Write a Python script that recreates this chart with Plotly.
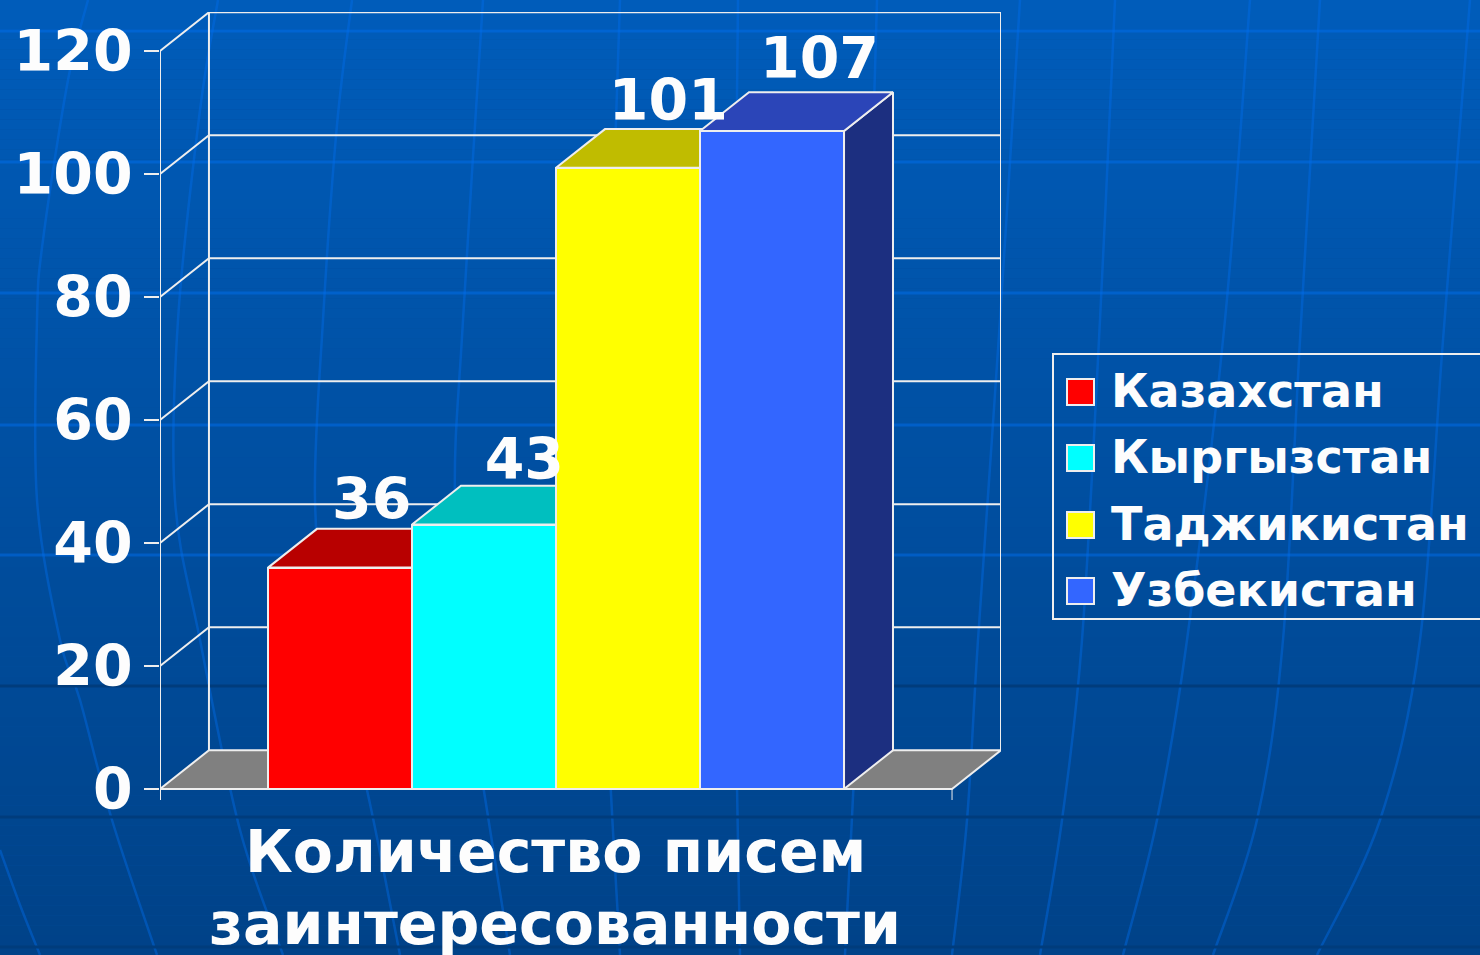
import plotly.graph_objects as go

# ---- data ----
categories = ["Казахстан", "Кыргызстан", "Таджикистан", "Узбекистан"]
values = [36, 43, 101, 107]
y_ticks = [0, 20, 40, 60, 80, 100, 120]
title_lines = ["Количество писем", "заинтересованности"]

front_colors = ["#ff0000", "#00ffff", "#ffff00", "#3366ff"]
top_colors = ["#b80000", "#00bfbf", "#c0bc00", "#2b45b8"]
side_colors = ["#800000", "#008080", "#808000", "#1c2f80"]

# nudges of the value labels, in axis units
label_dx = [0.22, 0.28, 0.28, 0.33]
label_dy = [10.3, 9.8, 10.1, 10.9]

W, H = 1480, 955
FONT = "DejaVu Sans"
WHITE = "#fdfdfd"
LINE = "#eeeeee"

# ---- chart geometry in axis units ----
bar_w = 1.0
first_left = 0.75
floor_w = 5.5
dx, dy = 0.34, 6.3
x_max = floor_w + dx
y_min, y_max = -1.8, 126.34
lefts = [first_left + i * bar_w for i in range(len(values))]
centers = [l + bar_w / 2 for l in lefts]


def px(x):
    return x / W


def py(y):
    return 1 - y / H


def path(points):
    """Smooth Catmull-Rom curve through the points, in paper coordinates."""
    p = [(px(a), py(b)) for a, b in points]
    out = f"M{p[0][0]:.5f},{p[0][1]:.5f}"
    for i in range(len(p) - 1):
        p0 = p[max(i - 1, 0)]
        p1, p2 = p[i], p[i + 1]
        p3 = p[min(i + 2, len(p) - 1)]
        c1 = (p1[0] + (p2[0] - p0[0]) / 6, p1[1] + (p2[1] - p0[1]) / 6)
        c2 = (p2[0] - (p3[0] - p1[0]) / 6, p2[1] - (p3[1] - p1[1]) / 6)
        out += f" C{c1[0]:.5f},{c1[1]:.5f} {c2[0]:.5f},{c2[1]:.5f} {p2[0]:.5f},{p2[1]:.5f}"
    return out


# ---- background ----
shapes = []
N = 96
c_top, c_bot = (0, 92, 186), (0, 66, 136)
for i in range(N):
    t = i / (N - 1)
    c = tuple(round(a + (b - a) * t) for a, b in zip(c_top, c_bot))
    shapes.append(dict(type="rect", xref="paper", yref="paper", layer="below",
                       x0=0, x1=1, y0=1 - i / N, y1=1 - (i + 1) / N,
                       fillcolor=f"rgb{c}", line_width=0))

meridians = [
    [(0, 850), (20, 905), (40, 955)],
    [(88, 0), (68, 80), (43, 240), (37, 320), (37, 500), (60, 640), (80, 700), (112, 820), (157, 955)],
    [(218, 0), (200, 110), (178, 320), (175, 500), (200, 640), (240, 830), (283, 955)],
    [(352, 0), (337, 125), (323, 320), (315, 500), (330, 640), (367, 790), (400, 955)],
    [(483, 0), (463, 320), (455, 500), (470, 700), (483, 785), (510, 955)],
    [(620, 0), (610, 320), (605, 640), (620, 955)],
    [(738, 0), (735, 320), (735, 640), (740, 955)],
    [(877, 0), (868, 320), (860, 640), (845, 955)],
    [(1020, 0), (1000, 320), (978, 640), (967, 820), (952, 955)],
    [(1115, 0), (1100, 320), (1082, 640), (1062, 820), (1040, 955)],
    [(1250, 0), (1225, 320), (1187, 640), (1157, 820), (1123, 955)],
    [(1320, 0), (1300, 340), (1283, 640), (1257, 820), (1213, 955)],
    [(1470, 0), (1443, 340), (1420, 640), (1380, 820), (1317, 955)],
]
for m in meridians:
    shapes.append(dict(type="path", xref="paper", yref="paper", layer="below",
                       path=path(m), line=dict(color="rgba(0,110,235,0.42)", width=2.5)))
for y in [31, 162, 293, 425, 555]:
    shapes.append(dict(type="line", xref="paper", yref="paper", layer="below",
                       x0=0, x1=1, y0=py(y), y1=py(y),
                       line=dict(color="rgba(0,110,235,0.5)", width=3)))
for y in [686, 817, 947]:
    shapes.append(dict(type="line", xref="paper", yref="paper", layer="below",
                       x0=0, x1=1, y0=py(y), y1=py(y), line=dict(color="#003c7c", width=3)))

fig = go.Figure()


def poly(xs, ys, fill, line=LINE, width=2):
    fig.add_trace(go.Scatter(x=xs, y=ys, mode="lines", fill="toself", fillcolor=fill,
                             line=dict(color=line, width=width), hoverinfo="skip",
                             showlegend=False, cliponaxis=False, xaxis="x", yaxis="y"))


def seg(xs, ys, width=2):
    fig.add_trace(go.Scatter(x=xs, y=ys, mode="lines", line=dict(color=LINE, width=width),
                             hoverinfo="skip", showlegend=False, cliponaxis=False,
                             xaxis="x", yaxis="y"))


# ---- pseudo-3D frame ----
top_tick = y_ticks[-1]
poly([0, dx, floor_w + dx, floor_w, 0], [0, dy, dy, 0, 0], "#808080")
seg([0, 0], [y_min, top_tick])
seg([dx, dx], [dy, top_tick + dy])
seg([floor_w + dx, floor_w + dx], [dy, top_tick + dy])
seg([floor_w, floor_w], [y_min, 0], width=1)
for t in y_ticks[1:]:
    seg([0, dx, floor_w + dx], [t, t + dy, t + dy])

# ---- tops and sides of the bars ----
for l, v, tc, sc in zip(lefts, values, top_colors, side_colors):
    poly([l + bar_w, l + bar_w + dx, l + bar_w + dx, l + bar_w, l + bar_w],
         [0, dy, v + dy, v, 0], sc)
    poly([l, l + dx, l + bar_w + dx, l + bar_w, l],
         [v, v + dy, v + dy, v, v], tc)

# ---- front faces, on an overlay so they hide the faces behind them ----
fig.add_trace(go.Bar(x=centers, y=values, width=bar_w, marker=dict(color=front_colors,
                     line=dict(color=LINE, width=2)), xaxis="x2", yaxis="y2",
                     showlegend=False, customdata=categories,
                     hovertemplate="%{customdata}: %{y}<extra></extra>"))
fig.add_trace(go.Scatter(x=[c + d for c, d in zip(centers, label_dx)],
                         y=[v + d for v, d in zip(values, label_dy)],
                         mode="text", text=[str(v) for v in values],
                         textposition="middle center",
                         textfont=dict(family=FONT, size=57, color=WHITE, weight="bold"),
                         xaxis="x2", yaxis="y2", showlegend=False, hoverinfo="skip",
                         cliponaxis=False))

# ---- legend box ----
annotations = []
shapes.append(dict(type="rect", xref="paper", yref="paper", layer="above",
                   x0=px(1053), x1=px(1490), y0=py(354), y1=py(619),
                   line=dict(color=LINE, width=2), fillcolor="rgba(0,0,0,0)"))
legend_y = [392, 458, 525, 591]
for name, col, y in zip(categories, front_colors, legend_y):
    shapes.append(dict(type="rect", xref="paper", yref="paper", layer="above",
                       x0=px(1067), x1=px(1094), y0=py(y - 13), y1=py(y + 13),
                       fillcolor=col, line=dict(color=LINE, width=2)))
    annotations.append(dict(xref="paper", yref="paper", x=px(1109), y=py(y - 1), text=f"<b>{name}</b>",
                            showarrow=False, xanchor="left", yanchor="middle",
                            font=dict(family=FONT, size=46, color=WHITE)))

for line, y in zip(title_lines, [852, 924]):
    annotations.append(dict(xref="paper", yref="paper", x=px(555), y=py(y),
                            text=f"<b>{line}</b>", showarrow=False,
                            xanchor="center", yanchor="middle", align="center",
                            font=dict(family=FONT, size=58.5, color=WHITE)))

x_domain = [px(160), px(160 + 841)]
y_domain = [py(789 - y_min * 6.15), py(12)]
x_axis = dict(range=[0, x_max], domain=x_domain, visible=False, fixedrange=True)
fig.update_layout(
    width=W, height=H, margin=dict(l=0, r=0, t=0, b=0, autoexpand=False),
    paper_bgcolor="#004f9f", plot_bgcolor="rgba(0,0,0,0)", showlegend=False,
    xaxis=x_axis,
    xaxis2=dict(x_axis, overlaying="x", anchor="y2"),
    yaxis=dict(range=[y_min, y_max], domain=y_domain, tickmode="array", tickvals=y_ticks,
               ticktext=[str(t) for t in y_ticks], ticks="outside", ticklen=15, tickwidth=2,
               tickcolor=LINE, showgrid=False, zeroline=False, showline=False,
               ticklabelstandoff=0, fixedrange=True,
               tickfont=dict(family=FONT, size=57, color=WHITE, weight="bold")),
    yaxis2=dict(range=[y_min, y_max], domain=y_domain, overlaying="y", anchor="x2", visible=False,
                fixedrange=True),
    shapes=shapes, annotations=annotations, bargap=0,
)
fig.write_html("out.html", post_script="document.body.style.margin='0';document.body.style.overflow='hidden';",
               config=dict(displayModeBar=False))
